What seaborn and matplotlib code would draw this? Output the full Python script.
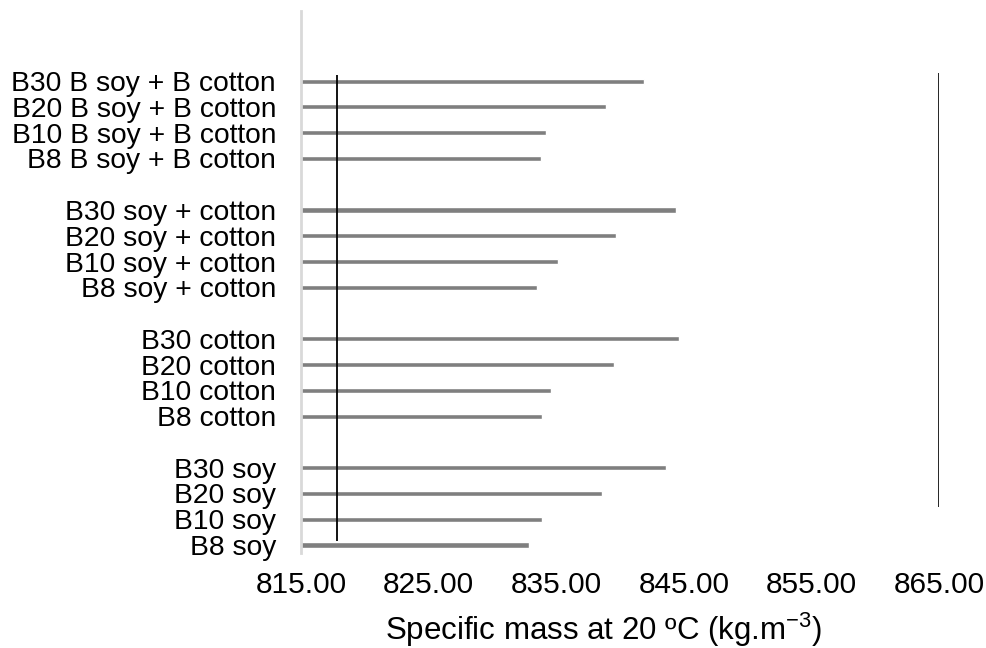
import matplotlib
matplotlib.use("Agg")
import matplotlib.pyplot as plt
import seaborn as sns
import pandas as pd

# Specific mass at 20 °C (kg/m³) of each diesel–biodiesel blend
b_soy_b_cotton_labels = ["B30 B soy + B cotton", "B20 B soy + B cotton",
                         "B10 B soy + B cotton", "B8 B soy + B cotton"]
b_soy_b_cotton_values = [841.9, 838.9, 834.2, 833.8]

soy_cotton_labels = ["B30 soy + cotton", "B20 soy + cotton",
                     "B10 soy + cotton", "B8 soy + cotton"]
soy_cotton_values = [844.4, 839.7, 835.1, 833.5]

cotton_labels = ["B30 cotton", "B20 cotton", "B10 cotton", "B8 cotton"]
cotton_values = [844.6, 839.5, 834.6, 833.9]

soy_labels = ["B30 soy", "B20 soy", "B10 soy", "B8 soy"]
soy_values = [843.6, 838.6, 833.9, 832.9]

# Specification limits for specific mass
lower_limit = 817.8
upper_limit = 865.0

x_ticks = [815, 825, 835, 845, 855, 865]

groups = [
    (b_soy_b_cotton_labels, b_soy_b_cotton_values),
    (soy_cotton_labels, soy_cotton_values),
    (cotton_labels, cotton_values),
    (soy_labels, soy_values),
]

labels, values, order = [], [], []
for i, (lab, val) in enumerate(groups):
    labels += lab
    values += val
    order += lab
    if i < len(groups) - 1:
        order.append(" " * (i + 1))  # empty slot between groups

df = pd.DataFrame({"blend": labels, "mass": values})

sns.set_theme(style="white")
plt.rcParams["font.family"] = ["Liberation Sans", "DejaVu Sans"]
plt.rcParams["mathtext.fontset"] = "custom"
plt.rcParams["mathtext.rm"] = "Liberation Sans"
plt.rcParams["mathtext.it"] = "Liberation Sans"
plt.rcParams["text.color"] = "black"
plt.rcParams["axes.labelcolor"] = "black"
plt.rcParams["xtick.color"] = "black"
plt.rcParams["ytick.color"] = "black"

fig = plt.figure(figsize=(9.86, 6.48), dpi=100)
ax = fig.add_axes([0.3053, 0.1466, 0.6471, 0.8364])

sns.barplot(data=df, x="mass", y="blend", order=order, orient="h",
            color="#7f7f7f", saturation=1, width=0.2, ax=ax)

# Limit lines
ax.vlines(lower_limit, -0.23, 17.84, color="black", lw=1.3, zorder=3)
ax.vlines(upper_limit, -0.32, 16.51, color="black", lw=1.2, zorder=3)

ax.set_xlim(815, 865)
ax.set_ylim(18.31, -2.72)
ax.set_xticks(x_ticks)
ax.set_xticklabels([f"{t:.2f}" for t in x_ticks], fontsize=21.5)
ax.tick_params(axis="y", length=0, pad=18, labelsize=20.3)
ax.tick_params(axis="x", length=0, pad=13)

ax.set_ylabel("")
ax.set_xlabel("Specific mass at 20 ºC (kg.m$^{-3}$)", fontsize=22.5)
ax.xaxis.label.set_va("center")
ax.xaxis.set_label_coords(0.4745, -0.142)

for side in ["top", "right", "bottom"]:
    ax.spines[side].set_visible(False)
ax.spines["left"].set_color("#d9d9d9")
ax.spines["left"].set_linewidth(2)
ax.grid(False)

fig.savefig("out.png", dpi=100, facecolor="white")
